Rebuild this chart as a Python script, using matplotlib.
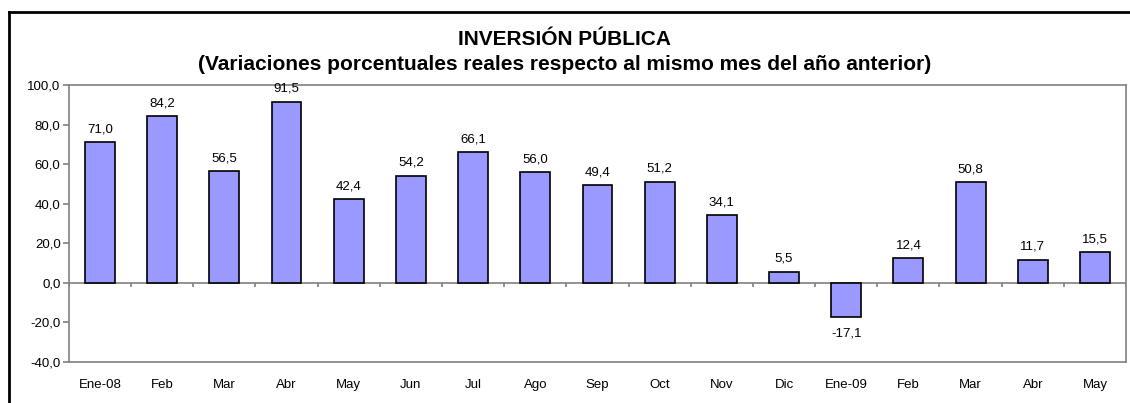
import matplotlib
matplotlib.use("Agg")
import matplotlib.pyplot as plt
from matplotlib.lines import Line2D
import numpy as np

plt.rcParams['font.family'] = ['Liberation Sans', 'DejaVu Sans']

meses = ['Ene-08', 'Feb', 'Mar', 'Abr', 'May', 'Jun', 'Jul', 'Ago', 'Sep',
         'Oct', 'Nov', 'Dic', 'Ene-09', 'Feb', 'Mar', 'Abr', 'May']
variacion = [71.0, 84.2, 56.5, 91.5, 42.4, 54.2, 66.1, 56.0, 49.4,
             51.2, 34.1, 5.5, -17.1, 12.4, 50.8, 11.7, 15.5]
yticks = [-40, -20, 0, 20, 40, 60, 80, 100]

def coma(v):
    return ('%.1f' % v).replace('.', ',')

fig = plt.figure(figsize=(11.3, 4.03), dpi=100)
ax = fig.add_axes([0.061, 0.102, 0.9355, 0.687])

x = np.arange(len(meses))
ax.bar(x, variacion, width=0.48, color='#9999FF', edgecolor='black', linewidth=1.2, zorder=3)

for xi, v in zip(x, variacion):
    if v >= 0:
        ax.text(xi, v + 3.5, coma(v), ha='center', va='bottom', fontsize=9.5)
    else:
        ax.text(xi, v - 5.5, coma(v), ha='center', va='top', fontsize=9.5)

# linea del cero con marcas entre categorias
ax.axhline(0, color='#808080', linewidth=1.2, zorder=2)
ax.vlines(np.arange(len(meses) + 1) - 0.5, -2.3, 0, color='#808080', linewidth=1.2, zorder=2)

ax.set_xlim(-0.5, len(meses) - 0.5)
ax.set_ylim(-40, 100)
ax.set_yticks(yticks)
ax.set_yticklabels([coma(v) for v in yticks], fontsize=9.5)
ax.set_xticks(x)
ax.set_xticklabels(meses, fontsize=9.5)
ax.tick_params(axis='x', length=0, pad=12)
ax.tick_params(axis='y', length=4, width=1.2, color='#808080', pad=2)
for s in ax.spines.values():
    s.set_color('#808080')
    s.set_linewidth(1.2)

fig.text(0.5, 0.903, 'INVERSIÓN PÚBLICA', ha='center', va='center', fontsize=15, fontweight='bold')
fig.text(0.5, 0.840, '(Variaciones porcentuales reales respecto al mismo mes del año anterior)',
         ha='center', va='center', fontsize=15, fontweight='bold')

# marco del grafico (solo arriba e izquierda visibles)
fig.add_artist(Line2D([0.008, 1.0], [0.97, 0.97], color='black', linewidth=2, transform=fig.transFigure))
fig.add_artist(Line2D([0.008, 0.008], [0.0, 0.97], color='black', linewidth=2, transform=fig.transFigure))

fig.savefig('out.png', dpi=100)
